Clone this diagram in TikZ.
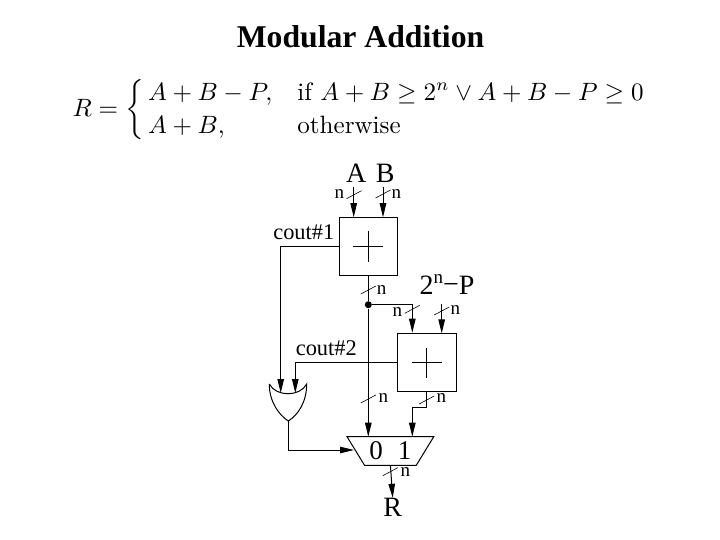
\documentclass[tikz,border=0pt]{standalone}
\usepackage{amsmath}
\usepackage{amssymb}
\usepackage{fontspec}
\newfontfamily\timesfont{Liberation Serif}
\usetikzlibrary{shapes.geometric, arrows.meta}

\begin{document}
\begin{tikzpicture}[
  x=1pt, y=-1pt,
  line width=1pt,
  adderbox/.style={rectangle, draw, inner sep=0pt, outer sep=0pt, minimum width=58.5pt, minimum height=58.5pt,
              path picture={
                \draw ([xshift=-15pt]path picture bounding box.center) -- ([xshift=15pt]path picture bounding box.center);
                \draw ([yshift=-15pt]path picture bounding box.center) -- ([yshift=15pt]path picture bounding box.center);
              }},
  muxbox/.style={trapezium, trapezium stretches=true, shape border rotate=180, trapezium angle=52, draw,
              inner sep=0pt, outer sep=0pt, minimum width=87.3pt, minimum height=28.6pt,
              font=\timesfont\fontsize{27}{27}\selectfont},
  arrow/.style={-{Triangle[length=14pt,width=6.5pt]}},
  tick/.style={line width=0.6pt},
  dot/.style={circle, fill=black, inner sep=0pt, minimum size=7pt},
  bigtext/.style={inner sep=0pt, font=\timesfont\fontsize{28}{28}\selectfont},
  midtext/.style={inner sep=0pt, font=\timesfont\fontsize{22.4}{22.4}\selectfont},
  widthtext/.style={inner sep=0pt, font=\timesfont\fontsize{19}{19}\selectfont},
]
  \useasboundingbox (0,0) rectangle (720,540);

  \node[inner sep=0pt, font=\timesfont\bfseries\fontsize{31.7}{31.7}\selectfont] (title) at (360.5,37) {Modular Addition};
  \node[inner sep=0pt, anchor=west] (formula) at (72,110) {\resizebox{574pt}{!}{$\def\arraystretch{1.1}R=\left\{\,\begin{array}{@{}l@{\quad}l@{}}A+B-P, & \text{if } A+B\geq 2^n\vee A+B-P\geq 0\\ A+B, & \text{otherwise}\end{array}\right.$}};

  \node[adderbox] (adder1) at (368.3,246.5) {};
  \node[adderbox] (adder2) at (426.8,362.7) {};
  \node[muxbox]   (mux)    at (390.4,451)   {0\hspace{15pt}1};
  \node[dot]      (fork)   at (368.3,304.7) {};

  \node[bigtext] (A) at (356.3,173) {A};
  \node[bigtext] (B) at (385.3,173) {B};
  \node[bigtext] (subtrahend) at (447,285) {2\raisebox{11pt}{\fontsize{19}{19}\selectfont n}\raisebox{1pt}{\textminus}P};
  \node[bigtext] (R) at (392.7,507.5) {R};
  \node[midtext] (cout1) at (303.8,232.5) {cout\#1};
  \node[midtext] (cout2) at (326.3,348.5) {cout\#2};

  \node[widthtext] (nA)   at (339.3,194) {n};
  \node[widthtext] (nB)   at (396.3,194) {n};
  \node[widthtext] (nS1)  at (381.7,290) {n};
  \node[widthtext] (nF)   at (397.3,312) {n};
  \node[widthtext] (nP)   at (455.3,310.5) {n};
  \node[widthtext] (nM0)  at (383.3,398.5) {n};
  \node[widthtext] (nS2)  at (441.3,398.5) {n};
  \node[widthtext] (nR)   at (405.3,472) {n};

  \coordinate (Ain)   at (353.7,187);
  \coordinate (Bin)   at (383,187);
  \coordinate (Pin)   at (441.7,304);
  \coordinate (Fin)   at (412.3,332.7);
  \coordinate (bend)  at (426.8,407.3);
  \coordinate (orin1) at (280.7,393);
  \coordinate (orin2) at (295.3,393);
  \coordinate (orout) at (288.3,421);
  \coordinate (muxsel) at (354,450);
  \coordinate (muxone) at (412.3,436.7);

  % or gate
  \draw (269.3,384) .. controls (276,397) and (300,397) .. (306.7,384)
        .. controls (306.7,402) and (298,415) .. (orout)
        .. controls (279,415) and (269.3,402) .. (269.3,384);

  \draw[arrow] (Ain) -- (Ain |- adder1.north);
  \draw[arrow] (Bin) -- (Bin |- adder1.north);
  \draw (adder1.south) -- (fork);
  \draw[arrow] (fork) -- (fork |- mux.north);
  \draw[arrow] (fork) -| (Fin);
  \draw[arrow] (Pin) -- (Pin |- adder2.north);
  \draw[arrow] (adder1.west) -| (orin1);
  \draw[arrow] (adder2.west) -| (orin2);
  \draw[arrow] (adder2.south) -- (bend) -| (muxone);
  \draw[arrow] (orout) |- (muxsel);
  \draw[arrow] (mux.south) -- (R.north);

  \foreach \x/\y in {354/194.7, 383/194, 368.3/290, 412.3/309.3, 441.7/311, 368.3/399, 426.7/400, 390.3/471.7}
    \draw[tick] (\x-7.5,\y+4) -- (\x+7.5,\y-4);
\end{tikzpicture}
\end{document}
